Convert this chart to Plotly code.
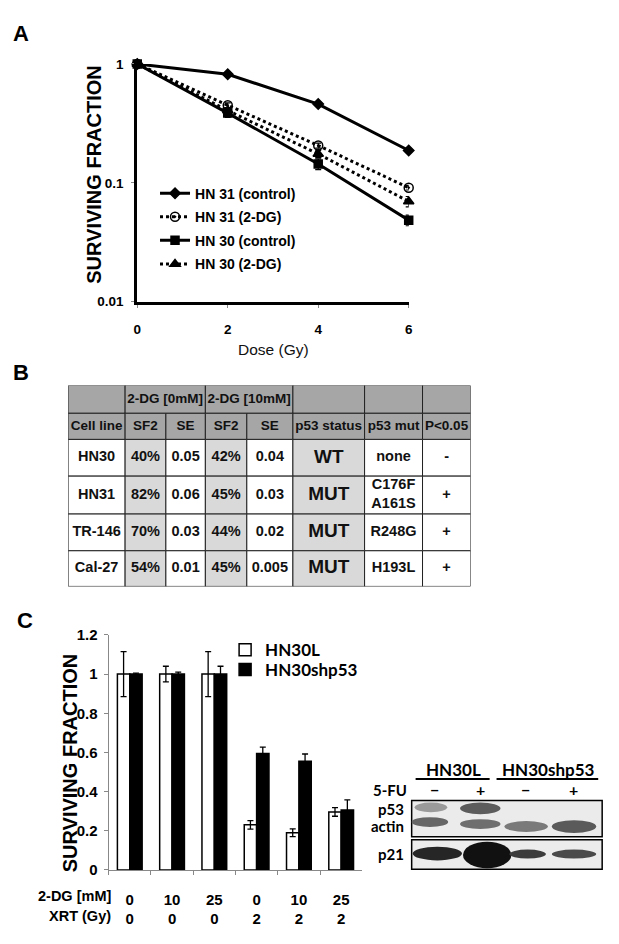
import plotly.graph_objects as go

W, H = 619, 944


def fx(x):
    return x / W


def fy(y):
    return 1 - y / H


SANS = "Liberation Sans, Arial, sans-serif"
CAL = "Lato, Carlito, Calibri, sans-serif"

# ---------------- Panel A data ----------------
dose_gy = [0, 2, 4, 6]
hn31_control = [1.0, 0.82, 0.46, 0.187]
hn31_control_err = [0.01, 0.02, 0.015, 0.006]
hn31_2dg = [1.0, 0.45, 0.206, 0.091]
hn31_2dg_err = [0.01, 0.02, 0.01, 0.004]
hn30_control = [1.0, 0.386, 0.144, 0.0485]
hn30_control_err = [0.02, 0.03, 0.015, 0.005]
hn30_2dg = [1.0, 0.406, 0.175, 0.0697]
hn30_2dg_err = [0.02, 0.02, 0.012, 0.007]
a_names = ["HN 31 (control)", "HN 31 (2-DG)", "HN 30 (control)", "HN 30 (2-DG)"]
a_yticks = [0.01, 0.1, 1]
a_yticktext = ["0.01", "0.1", "1"]

# ---------------- Panel B data ----------------
table_groups = ["", "2-DG [0mM]", "2-DG [10mM]", "", "", ""]
table_group_span = [1, 2, 2, 1, 1, 1]
table_header = ["Cell line", "SF2", "SE", "SF2", "SE", "p53 status", "p53 mut", "P<0.05"]
cell_lines = ["HN30", "HN31", "TR-146", "Cal-27"]
sf2_0mM = [40, 82, 70, 54]
se_0mM = ["0.05", "0.06", "0.03", "0.01"]
sf2_10mM = [42, 45, 44, 45]
se_10mM = ["0.04", "0.03", "0.02", "0.005"]
p53_status = ["WT", "MUT", "MUT", "MUT"]
p53_mut = ["none", "C176F<br>A161S", "R248G", "H193L"]
p_lt_005 = ["-", "+", "+", "+"]

# ---------------- Panel C data ----------------
dg_mM = [0, 10, 25, 0, 10, 25]
xrt_gy = [0, 0, 0, 2, 2, 2]
hn30l = [1.0, 1.0, 1.0, 0.23, 0.19, 0.296]
hn30l_err = [0.115, 0.04, 0.115, 0.022, 0.02, 0.022]
hn30shp53 = [1.0, 1.0, 1.0, 0.594, 0.555, 0.306]
hn30shp53_err = [0.005, 0.01, 0.04, 0.033, 0.037, 0.052]

# western blot labels
blot_groups = ["HN30L", "HN30shp53"]
fu_treatment = ["\u2212", "+", "\u2212", "+"]
blot_proteins = ["p53", "actin", "p21"]

fig = go.Figure()

# ---------------- Panel A traces ----------------
a_series = [
    (hn31_control, hn31_control_err, "solid", "diamond", 8),
    (hn31_2dg, hn31_2dg_err, "dot", "circle-open-dot", 9),
    (hn30_control, hn30_control_err, "solid", "square", 8),
    (hn30_2dg, hn30_2dg_err, "dot", "triangle-up", 9),
]
a_legends = ["legend", "legend4", "legend5", "legend6"]
for name, lg, (vals, errs, dash, sym, ms) in zip(a_names, a_legends, a_series):
    fig.add_trace(go.Scatter(
        x=dose_gy, y=vals, name=name, mode="lines+markers",
        line=dict(color="black", width=3, dash=dash),
        marker=dict(symbol=sym, size=ms, color="black",
                    line=dict(color="black", width=1.5)),
        error_y=dict(type="data", array=errs, color="black", thickness=1.2, width=3),
        xaxis="x", yaxis="y", legend=lg, cliponaxis=False,
    ))

# ---------------- Panel C traces ----------------
c_cats = [f"{d}<br>{x}" for d, x in zip(dg_mM, xrt_gy)]
fig.add_trace(go.Bar(
    x=c_cats, y=hn30l, name="HN30L",
    marker=dict(color="white", line=dict(color="black", width=1.5)),
    error_y=dict(type="data", array=hn30l_err, color="black", thickness=1.3, width=3),
    xaxis="x2", yaxis="y2", legend="legend2",
))
fig.add_trace(go.Bar(
    x=c_cats, y=hn30shp53, name="HN30shp53",
    marker=dict(color="black", line=dict(color="black", width=1.5)),
    error_y=dict(type="data", array=hn30shp53_err, color="black", thickness=1.3, width=3),
    xaxis="x2", yaxis="y2", legend="legend3",
))

# ---------------- Panel B table ----------------
col_w = [57.7, 41.3, 40, 42, 46.7, 72.6, 58.7, 48.7]
row_h = [28.4, 26.6, 37.4, 38.6, 37.4, 36.3]
x_edges = [0]
for w in col_w:
    x_edges.append(x_edges[-1] + w)
y_edges = [0]
for h in row_h:
    y_edges.append(y_edges[-1] + h)

HDR = "#a6a6a6"
LIGHT = "#d9d9d9"
shapes = []


def cell_rect(c0, c1, r, fill):
    shapes.append(dict(type="rect", xref="x3", yref="y3",
                       x0=x_edges[c0], x1=x_edges[c1], y0=y_edges[r], y1=y_edges[r + 1],
                       fillcolor=fill, line=dict(color="#222", width=1), layer="below"))


tx, ty, tt, ts = [], [], [], []
# header row 1 (merged groups)
c = 0
for label, span in zip(table_groups, table_group_span):
    cell_rect(c, c + span, 0, HDR)
    if label:
        tx.append((x_edges[c] + x_edges[c + span]) / 2)
        ty.append((y_edges[0] + y_edges[1]) / 2)
        tt.append(f"<b>{label}</b>")
        ts.append(13.5)
    c += span
# header row 2
for ci, label in enumerate(table_header):
    cell_rect(ci, ci + 1, 1, HDR)
    tx.append((x_edges[ci] + x_edges[ci + 1]) / 2)
    ty.append((y_edges[1] + y_edges[2]) / 2)
    tt.append(f"<b>{label}</b>")
    ts.append(13.5)
# body
body_cols = [
    cell_lines,
    [f"{v}%" for v in sf2_0mM],
    se_0mM,
    [f"{v}%" for v in sf2_10mM],
    se_10mM,
    p53_status,
    p53_mut,
    p_lt_005,
]
shaded = {1, 3, 5}
for ci, col in enumerate(body_cols):
    for ri, val in enumerate(col):
        r = ri + 2
        cell_rect(ci, ci + 1, r, LIGHT if ci in shaded else "white")
        tx.append((x_edges[ci] + x_edges[ci + 1]) / 2)
        ty.append((y_edges[r] + y_edges[r + 1]) / 2)
        tt.append(f"<b>{val}</b>")
        ts.append(19 if ci == 5 else 14.5)

fig.add_trace(go.Scatter(
    x=tx, y=ty, text=tt, mode="text", textposition="middle center",
    textfont=dict(family=SANS, size=ts, color="#111"),
    xaxis="x3", yaxis="y3", showlegend=False, hoverinfo="skip",
))

# ---------------- Western blot (drawn schematic) ----------------
def prect(x0, y0, x1, y1, **kw):
    d = dict(type="rect", xref="paper", yref="paper",
             x0=fx(x0), x1=fx(x1), y0=fy(y1), y1=fy(y0))
    d.update(kw)
    shapes.append(d)


def pband(x0, y0, x1, y1, color):
    shapes.append(dict(type="circle", xref="paper", yref="paper",
                       x0=fx(x0), x1=fx(x1), y0=fy(y1), y1=fy(y0),
                       fillcolor=color, line=dict(width=0)))


prect(413, 806, 606, 843, fillcolor="#ebebeb", line=dict(color="black", width=1.5))
prect(413, 846, 606, 876, fillcolor="#ececec", line=dict(color="black", width=1.5))
# p53 bands
pband(416, 808, 449, 818, "#9a9a9a")
pband(462, 808, 503, 820, "#5c5c5c")
# actin bands
pband(413, 823, 450, 833, "#666666")
pband(462, 825, 503, 835, "#6e6e6e")
pband(507, 827, 551, 838, "#7a7a7a")
pband(555, 826, 600, 839, "#5a5a5a")
# p21 bands
pband(414, 853, 464, 867, "#262626")
pband(465, 848, 514, 875, "#111111")
pband(512, 856, 549, 865, "#3c3c3c")
pband(555, 856, 600, 865, "#4a4a4a")
# group underlines
shapes.append(dict(type="line", xref="paper", yref="paper", x0=fx(417), x1=fx(492),
                   y0=fy(784), y1=fy(784), line=dict(color="black", width=2)))
shapes.append(dict(type="line", xref="paper", yref="paper", x0=fx(499), x1=fx(602),
                   y0=fy(784), y1=fy(784), line=dict(color="black", width=2)))

annotations = []


def ann(text, x, y, size, family=SANS, bold=True, xanchor="center", yanchor="middle",
        angle=0, color="black"):
    annotations.append(dict(
        text=f"<b>{text}</b>" if bold else text, x=fx(x), y=fy(y),
        xref="paper", yref="paper", showarrow=False, xanchor=xanchor, yanchor=yanchor,
        textangle=angle, font=dict(family=family, size=size, color=color)))


for g, xc in zip(blot_groups, [455, 551]):
    ann(g, xc, 774, 17, family=CAL)
ann("5-FU", 410, 795, 15, family=CAL, xanchor="right")
for t, xc in zip(fu_treatment, [436, 483, 528, 577]):
    ann(t, xc, 795, 16, family=CAL)
for p, yc in zip(blot_proteins, [815, 832, 860]):
    ann(p, 407, yc, 15, family=CAL, xanchor="right")

# panel letters
ann("A", 17, 25, 22)
ann("B", 17, 370, 22)
ann("C", 21, 623, 22)

# axis titles
ann("SURVIVING FRACTION", 91, 168, 20, angle=-90)
ann("Dose (Gy)", 273, 347, 15.5, bold=False, color="#111")
ann("SURVIVING FRACTION", 67, 768, 20, angle=-90)
ann("2-DG [mM]", 110, 903, 14.5, xanchor="right")
ann("XRT (Gy)", 110, 924, 14.5, xanchor="right")

bold = dict(weight="bold")


def one_legend(x, y, size, family):
    return dict(x=fx(x), y=fy(y), xanchor="left", yanchor="middle",
                bgcolor="rgba(0,0,0,0)", itemwidth=30, tracegroupgap=0,
                font=dict(family=family, size=size, color="black", **bold))


fig.update_layout(
    width=W, height=H,
    margin=dict(l=0, r=0, t=0, b=0),
    paper_bgcolor="white", plot_bgcolor="white",
    showlegend=True,
    barmode="group", bargap=0.415, bargroupgap=0,
    xaxis=dict(domain=[fx(135), fx(410)], range=[0, 6], anchor="y",
               tickvals=dose_gy, showline=True, linewidth=3, linecolor="black",
               ticks="outside", ticklen=3, tickcolor="#888",
               tickfont=dict(family=SANS, size=13.5, color="black", **bold),
               ticklabelstandoff=10, showgrid=False, zeroline=False),
    yaxis=dict(domain=[fy(298), fy(56)], type="log", range=[-2, 0], anchor="x",
               tickvals=a_yticks, ticktext=a_yticktext,
               showline=True, linewidth=3, linecolor="black",
               ticks="outside", ticklen=3, tickcolor="#888",
               tickfont=dict(family=SANS, size=13.5, color="black", **bold),
               ticklabelstandoff=5, showgrid=False, zeroline=False),
    xaxis2=dict(domain=[fx(106), fx(363)], anchor="y2", type="category",
                showline=True, linewidth=1, linecolor="#888",
                ticks="outside", ticklen=4, tickcolor="#888", tickson="boundaries",
                tickfont=dict(family=SANS, size=15, color="black", **bold),
                ticklabelstandoff=16, showgrid=False, zeroline=False),
    yaxis2=dict(domain=[fy(876.7), fy(637.4)], anchor="x2", range=[0, 1.2], dtick=0.2,
                showline=True, linewidth=1, linecolor="#888",
                ticks="outside", ticklen=4, tickcolor="#888",
                tickfont=dict(family=SANS, size=15, color="black", **bold),
                ticklabelstandoff=3, showgrid=False, zeroline=False),
    xaxis3=dict(domain=[fx(65), fx(472.7)], anchor="y3", range=[0, x_edges[-1]],
                visible=False, fixedrange=True),
    yaxis3=dict(domain=[fy(588), fy(383.3)], anchor="x3", range=[y_edges[-1], 0],
                visible=False, fixedrange=True),
    legend=one_legend(153, 188, 14, SANS),
    legend4=one_legend(153, 212, 14, SANS),
    legend5=one_legend(153, 236, 14, SANS),
    legend6=one_legend(153, 260, 14, SANS),
    legend2=one_legend(224, 653, 17, CAL),
    legend3=one_legend(224, 673, 17, CAL),
    shapes=shapes,
    annotations=annotations,
)

fig.write_html(
    "out.html",
    config={"displayModeBar": False},
    post_script="document.body.style.margin='0';document.body.style.overflow='hidden';",
)
